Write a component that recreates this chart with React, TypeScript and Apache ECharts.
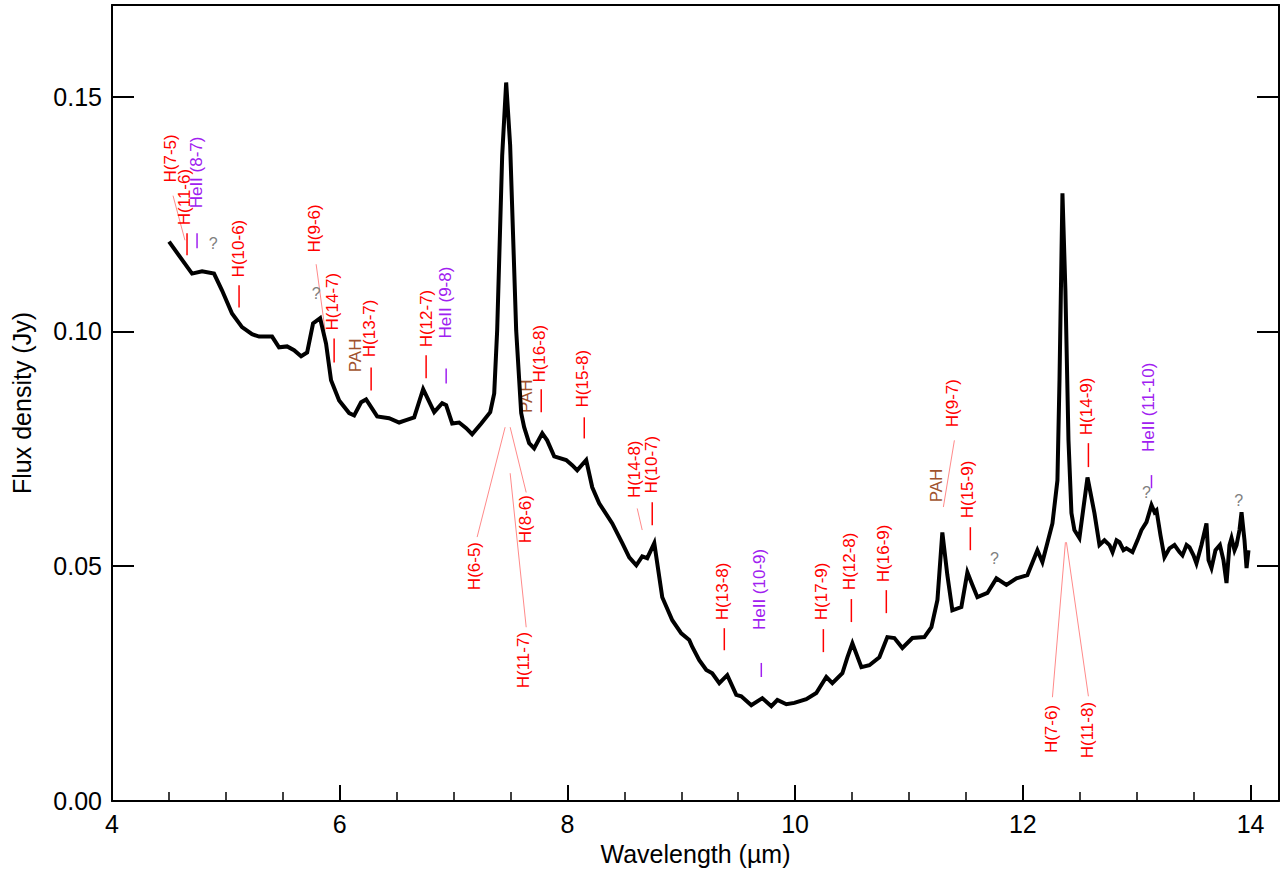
import React, { useEffect, useRef } from "react";
import * as echarts from "echarts";

// Spectrum: wavelength (µm) and flux density (Jy)
const wavelength = [
  4.501, 4.703, 4.791, 4.896, 4.967, 5.054, 5.142, 5.23, 5.292, 5.406, 5.467, 5.538, 5.599, 5.661, 5.714,
  5.766, 5.828, 5.88, 5.924, 5.995, 6.083, 6.127, 6.188, 6.232, 6.329, 6.434, 6.522, 6.583, 6.654, 6.733,
  6.83, 6.9, 6.935, 6.988, 7.049, 7.111, 7.163, 7.243, 7.322, 7.357, 7.383, 7.427, 7.462, 7.497, 7.55,
  7.594, 7.62, 7.664, 7.708, 7.779, 7.822, 7.884, 7.989, 8.042, 8.086, 8.165, 8.218, 8.279, 8.394, 8.482,
  8.543, 8.605, 8.657, 8.701, 8.763, 8.833, 8.921, 9.0, 9.07, 9.097, 9.158, 9.22, 9.272, 9.334, 9.404,
  9.483, 9.527, 9.615, 9.712, 9.791, 9.844, 9.923, 9.993, 10.098, 10.186, 10.274, 10.327, 10.415, 10.459, 10.503,
  10.582, 10.652, 10.74, 10.81, 10.872, 10.942, 11.03, 11.135, 11.197, 11.25, 11.293, 11.337, 11.381, 11.46, 11.513,
  11.557, 11.601, 11.689, 11.768, 11.856, 11.944, 12.04, 12.128, 12.172, 12.26, 12.304, 12.322, 12.348, 12.374, 12.401,
  12.427, 12.453, 12.497, 12.568, 12.629, 12.673, 12.717, 12.761, 12.788, 12.823, 12.849, 12.884, 12.91, 12.963, 13.007,
  13.042, 13.086, 13.13, 13.157, 13.174, 13.209, 13.244, 13.288, 13.332, 13.376, 13.402, 13.438, 13.464, 13.499, 13.525,
  13.569, 13.613, 13.631, 13.657, 13.692, 13.731, 13.762, 13.789, 13.815, 13.833, 13.859, 13.877, 13.903, 13.921, 13.947,
  13.965, 13.982,
];
const flux = [
  0.1191, 0.1123, 0.1128, 0.1123, 0.1087, 0.1038, 0.1009, 0.0994, 0.0989, 0.0989, 0.0966, 0.0968, 0.096, 0.0947, 0.0955,
  0.1017, 0.1028, 0.0974, 0.0896, 0.0853, 0.0826, 0.0821, 0.0849, 0.0855, 0.0819, 0.0815, 0.0806, 0.0811, 0.0817, 0.0877,
  0.0828, 0.0847, 0.0843, 0.0804, 0.0806, 0.0794, 0.0781, 0.0804, 0.0828, 0.0868, 0.1002, 0.1374, 0.153, 0.1396, 0.1002,
  0.0826, 0.0796, 0.0762, 0.0751, 0.0783, 0.0768, 0.0734, 0.0726, 0.0715, 0.0704, 0.0726, 0.0668, 0.0634, 0.0591, 0.0549,
  0.0519, 0.0502, 0.0521, 0.0517, 0.0549, 0.0434, 0.0385, 0.0357, 0.0343, 0.0328, 0.03, 0.0279, 0.0272, 0.0251, 0.0268,
  0.0226, 0.0223, 0.0204, 0.0219, 0.0202, 0.0215, 0.0206, 0.0209, 0.0217, 0.023, 0.0264, 0.0251, 0.0272, 0.0306, 0.0336,
  0.0285, 0.0289, 0.0306, 0.0349, 0.0347, 0.0326, 0.0347, 0.0349, 0.037, 0.0428, 0.0572, 0.0481, 0.0406, 0.0413, 0.0487,
  0.046, 0.0434, 0.0443, 0.0474, 0.046, 0.0474, 0.0481, 0.0534, 0.0509, 0.0591, 0.0683, 0.0896, 0.1294, 0.1087, 0.0768,
  0.0613, 0.0577, 0.056, 0.0689, 0.0613, 0.0545, 0.0555, 0.0545, 0.053, 0.0555, 0.0551, 0.0534, 0.0538, 0.053, 0.0555,
  0.0577, 0.0594, 0.063, 0.0615, 0.0619, 0.0566, 0.0519, 0.0538, 0.0545, 0.053, 0.0523, 0.0545, 0.054, 0.0523, 0.0506,
  0.0545, 0.0591, 0.0513, 0.0496, 0.0534, 0.0545, 0.0513, 0.0464, 0.0545, 0.056, 0.0534, 0.0545, 0.0577, 0.0615, 0.0555,
  0.0496, 0.0534,
];

// Line identifications
const annLabels = [
  "H(7-5)", "H(11-6)", "HeII (8-7)", "?", "H(10-6)", "H(9-6)", "?", "H(14-7)", "PAH", "H(13-7)",
  "H(12-7)", "HeII (9-8)", "H(16-8)", "PAH", "H(15-8)", "H(6-5)", "H(8-6)", "H(11-7)", "H(14-8)", "H(10-7)",
  "H(13-8)", "HeII (10-9)", "H(17-9)", "H(12-8)", "H(16-9)", "H(9-7)", "PAH", "H(15-9)", "?", "H(14-9)",
  "HeII (11-10)", "?", "?", "H(7-6)", "H(11-8)",
];
// label anchor (wavelength, flux) : start of vertical text, or centre of "?"
const annX = [
  4.518, 4.633, 4.738, 4.888, 5.107, 5.775, 5.793, 5.933, 6.135, 6.258,
  6.759, 6.926, 7.752, 7.638, 8.13, 7.181, 7.629, 7.612, 8.587, 8.736,
  9.36, 9.685, 10.23, 10.476, 10.775, 11.381, 11.241, 11.513, 11.75, 12.559,
  13.104, 13.086, 13.895, 12.251, 12.568,
];
const annY = [
  0.1317, 0.1226, 0.1262, 0.1187, 0.1115, 0.1168, 0.1081, 0.1002, 0.0913, 0.0945,
  0.0966, 0.0985, 0.0891, 0.0826, 0.0838, 0.0449, 0.0549, 0.024, 0.0645, 0.0655,
  0.0385, 0.0364, 0.0385, 0.0449, 0.0466, 0.0796, 0.0636, 0.0602, 0.0517, 0.0779,
  0.0743, 0.0657, 0.064, 0.0102, 0.0091,
];
// marker line kind: "tick" short line, "leader" thin pointer line, "" none
const annLineKind = [
  "leader", "tick", "tick", "", "tick", "leader", "", "tick", "", "tick",
  "tick", "tick", "tick", "", "tick", "leader", "leader", "leader", "leader", "tick",
  "tick", "tick", "tick", "tick", "tick", "leader", "", "tick", "", "tick",
  "tick", "", "", "leader", "leader",
];
const annLineX1 = [
  4.536, 4.659, 4.747, 0, 5.116, 5.793, 0, 5.951, 0, 6.276,
  6.759, 6.935, 7.77, 0, 8.148, 7.207, 7.638, 7.638, 8.613, 8.745,
  9.378, 9.703, 10.248, 10.494, 10.801, 11.399, 0, 11.539, 0, 12.576,
  13.13, 0, 0, 12.26, 12.576,
];
const annLineY1 = [
  0.1289, 0.1209, 0.1209, 0, 0.1098, 0.1143, 0, 0.0985, 0, 0.0923,
  0.0949, 0.0921, 0.0877, 0, 0.0817, 0.0562, 0.0657, 0.037, 0.0623, 0.0636,
  0.0368, 0.0294, 0.0366, 0.043, 0.0449, 0.0768, 0, 0.0583, 0, 0.0762,
  0.0694, 0, 0, 0.0221, 0.0223,
];
const annLineX2 = [
  4.641, 4.659, 4.747, 0, 5.116, 5.872, 0, 5.951, 0, 6.276,
  6.759, 6.935, 7.77, 0, 8.148, 7.453, 7.497, 7.497, 8.657, 8.745,
  9.378, 9.703, 10.248, 10.494, 10.801, 11.302, 0, 11.539, 0, 12.576,
  13.13, 0, 0, 12.374, 12.383,
];
const annLineY2 = [
  0.1194, 0.1162, 0.1177, 0, 0.1051, 0.1002, 0, 0.0934, 0, 0.0874,
  0.09, 0.0889, 0.0828, 0, 0.0772, 0.0796, 0.0796, 0.0698, 0.0577, 0.0587,
  0.0321, 0.0264, 0.0317, 0.0381, 0.04, 0.0626, 0, 0.0534, 0, 0.0711,
  0.0666, 0, 0, 0.0551, 0.0551,
];

const FONT = '"Liberation Sans", Arial, Helvetica, sans-serif';

function labelColor(t: string): string {
  if (t.startsWith("HeII")) return "#a020f0";
  if (t === "PAH") return "#a0522d";
  if (t === "?") return "#808080";
  return "#ff0000";
}

export default function App() {
  const ref = useRef<HTMLDivElement>(null);
  useEffect(() => {
    if (!ref.current) return;
    const chart = echarts.init(ref.current, null, { renderer: "svg" });

    const axisCommon = {
      type: "value" as const,
      splitLine: { show: false },
      axisLine: { show: true, onZero: false, lineStyle: { color: "#000", width: 2 } },
    };

    const option: any = {
      animation: false,
      backgroundColor: "#fff",
      grid: { left: 112, right: 3, top: 5, bottom: 71, containLabel: false },
      xAxis: [
        {
          ...axisCommon,
          position: "bottom",
          min: 4,
          max: 14.25,
          interval: 2,
          axisTick: { show: true, inside: true, length: 16, lineStyle: { color: "#000", width: 2 } },
          minorTick: { show: true, splitNumber: 4, length: 9, lineStyle: { color: "#000", width: 1.5 } },
          axisLabel: {
            color: "#000",
            fontSize: 25,
            fontFamily: FONT,
            margin: 10,
            formatter: (v: number) => (Math.abs(v / 2 - Math.round(v / 2)) < 1e-6 ? String(v) : ""),
          },
          name: "Wavelength (µm)",
          nameLocation: "middle",
          nameGap: 40,
          nameTextStyle: { color: "#000", fontSize: 25, fontFamily: FONT },
        },
        {
          ...axisCommon,
          position: "top",
          min: 4,
          max: 14.25,
          interval: 2,
          axisTick: { show: false },
          axisLabel: { show: false },
        },
      ],
      yAxis: [
        {
          ...axisCommon,
          position: "left",
          min: 0,
          max: 0.1695,
          interval: 0.05,
          axisTick: { show: true, inside: true, length: 22, lineStyle: { color: "#000", width: 2 } },
          axisLabel: {
            color: "#000",
            fontSize: 25,
            fontFamily: FONT,
            margin: 10,
            formatter: (v: number) =>
              Math.abs(v / 0.05 - Math.round(v / 0.05)) < 1e-6 ? v.toFixed(2) : "",
          },
          name: "Flux density (Jy)",
          nameLocation: "middle",
          nameGap: 78,
          nameTextStyle: { color: "#000", fontSize: 25, fontFamily: FONT },
        },
        {
          ...axisCommon,
          position: "right",
          min: 0,
          max: 0.1695,
          interval: 0.05,
          axisTick: { show: true, inside: true, length: 22, lineStyle: { color: "#000", width: 2 } },
          axisLabel: { show: false },
        },
      ],
      series: [
        {
          type: "custom",
          xAxisIndex: 0,
          yAxisIndex: 0,
          z: 2,
          silent: true,
          data: annLabels.map((_, i) => [annX[i], annY[i]]),
          renderItem: (params: any, api: any) => {
            const i = params.dataIndex;
            const t = annLabels[i];
            const col = labelColor(t);
            const p = api.coord([api.value(0), api.value(1)]);
            const children: any[] = [];
            const kind = annLineKind[i];
            if (kind) {
              const a = api.coord([annLineX1[i], annLineY1[i]]);
              const b = api.coord([annLineX2[i], annLineY2[i]]);
              children.push({
                type: "line",
                shape: { x1: a[0], y1: a[1], x2: b[0], y2: b[1] },
                style: {
                  stroke: kind === "leader" ? "#ff8a8a" : col,
                  lineWidth: kind === "leader" ? 1 : 1.5,
                },
              });
            }
            if (t === "?") {
              children.push({
                type: "text",
                x: p[0],
                y: p[1],
                style: {
                  text: t,
                  fill: col,
                  font: `16px ${FONT}`,
                  align: "center",
                  verticalAlign: "middle",
                  textAlign: "center",
                  textVerticalAlign: "middle",
                },
              });
            } else {
              children.push({
                type: "text",
                x: p[0],
                y: p[1],
                rotation: Math.PI / 2,
                style: {
                  text: t,
                  fill: col,
                  font: `17px ${FONT}`,
                  align: "left",
                  verticalAlign: "middle",
                  textAlign: "left",
                  textVerticalAlign: "middle",
                },
              });
            }
            return { type: "group", children };
          },
        },
        {
          type: "line",
          xAxisIndex: 0,
          yAxisIndex: 0,
          z: 3,
          showSymbol: false,
          symbol: "none",
          data: wavelength.map((w, i) => [w, flux[i]]),
          lineStyle: { color: "#000", width: 4, join: "miter" },
        },
      ],
    };
    chart.setOption(option);
    return () => chart.dispose();
  }, []);
  return (
    <div
      ref={ref}
      style={{ position: "fixed", left: 0, top: 0, width: 1282, height: 872, background: "#fff" }}
    />
  );
}
